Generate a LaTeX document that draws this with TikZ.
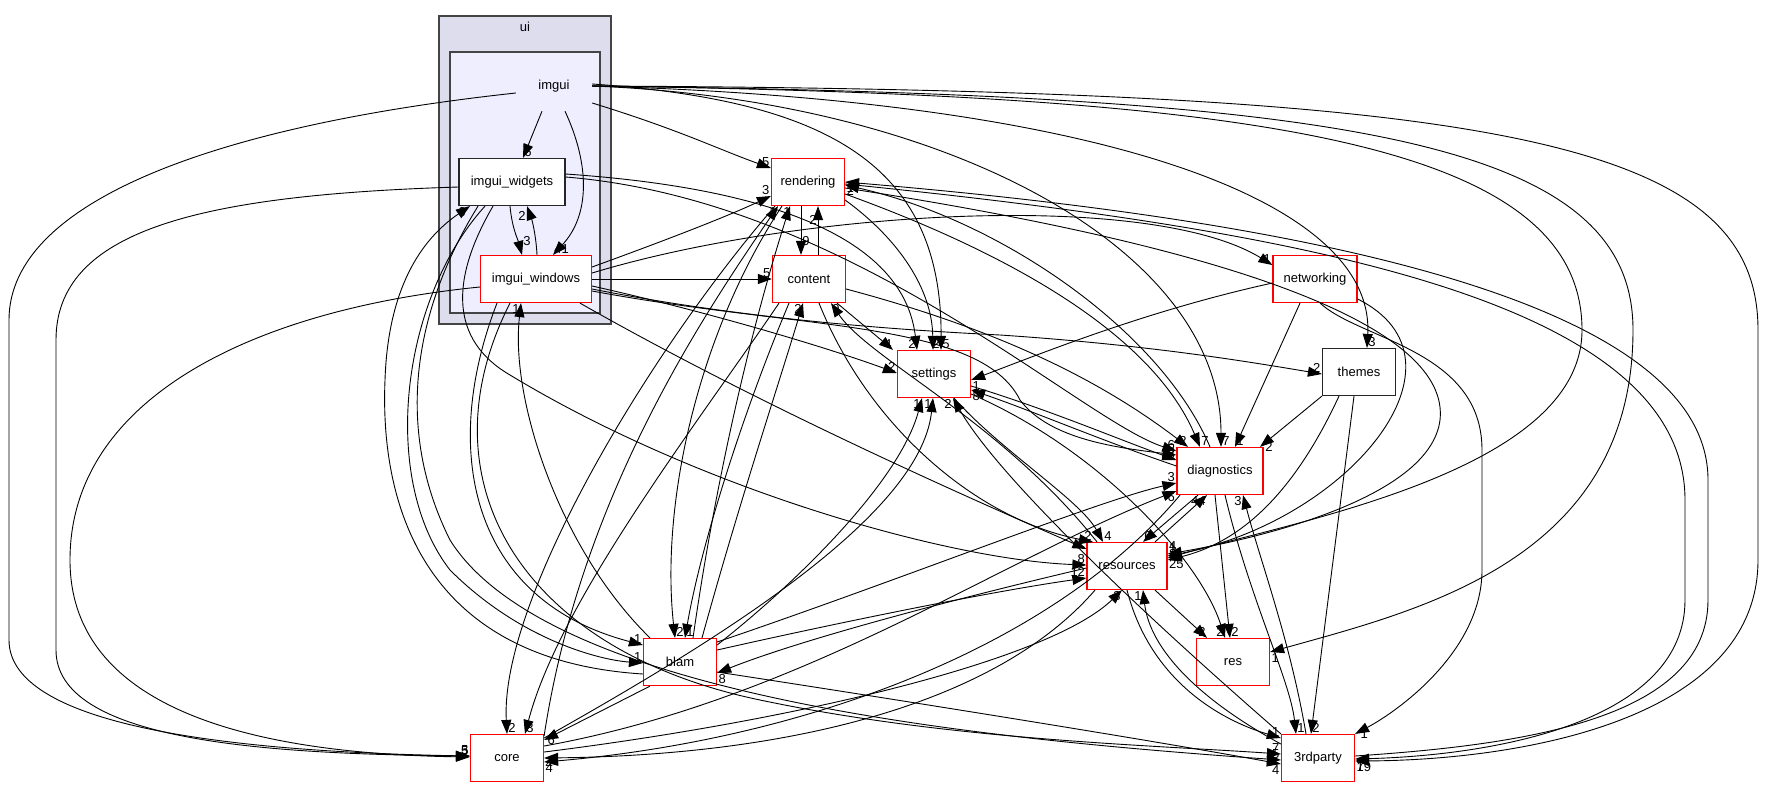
\documentclass[tikz,border=0pt]{standalone}
\usepackage{fontspec}
\setmainfont{Liberation Sans}
\usetikzlibrary{arrows.meta}

\definecolor{uifill}{RGB}{221,221,238}
\definecolor{imguifill}{RGB}{238,238,255}
\definecolor{frame}{RGB}{68,68,68}

\tikzset{
	dir/.style={draw=red, fill=white, line width=1.2pt, minimum width=73pt, minimum height=47pt, inner sep=0pt},
	dirblack/.style={dir, draw=black!85},
	dep/.style={-{Triangle[length=14pt,width=10pt]}, line width=0.9pt},
	num/.style={inner sep=1pt}
}

\begin{document}
\begin{tikzpicture}[x=1pt, y=-1pt, font=\fontsize{13}{15}\selectfont]
		\useasboundingbox (0,0) rectangle (1765,788);
		% clusters
		\draw[fill=uifill, draw=frame, line width=1.4pt] (439,16) rectangle (611,324);
		\node (uilabel) at (525,27) {ui};
		\draw[fill=imguifill, draw=frame, line width=1.4pt] (450,52) rectangle (600,313);
		% directories
		\node[minimum width=76pt, minimum height=50pt, inner sep=0pt] (imgui) at (554,86) {imgui};
		\node[dirblack, minimum width=106pt] (iwid) at (512,182) {imgui\_widgets};
		\node[dir, minimum width=111pt] (iwin) at (536,279) {imgui\_windows};
		\node[dir] (rendering) at (808,182) {rendering};
		\node[dir] (content) at (809,279) {content};
		\node[dir, minimum width=84pt] (networking) at (1315,279) {networking};
		\node[dir] (settings) at (934,374) {settings};
		\node[dirblack] (themes) at (1359,372) {themes};
		\node[dir, minimum width=86pt] (diagnostics) at (1220,471) {diagnostics};
		\node[dir, minimum width=80pt] (resources) at (1127,566) {resources};
		\node[dir] (res) at (1233,662) {res};
		\node[dir] (blam) at (680,662) {blam};
		\node[dir] (core) at (507,758) {core};
		\node[dir] (thirdparty) at (1318,758) {3rdparty};

		% inside imgui
		\draw[dep] ([xshift=-12pt]imgui.south) -- ([xshift=11pt]iwid.north) node[num, anchor=south west] {6};
		\draw[dep] ([xshift=11pt]imgui.south) .. controls (590,165) and (590,215) .. ([xshift=17pt]iwin.north) node[num, anchor=south west] {41};
		\draw[dep] ([xshift=-2pt]iwid.south) .. controls (512,228) and (518,240) .. ([xshift=-14pt]iwin.north) node[num, anchor=south west, yshift=8pt] {3};
		\draw[dep] ([xshift=1pt]iwin.north) .. controls (536,235) and (532,220) .. ([xshift=15pt]iwid.south) node[num, anchor=north east, yshift=-4pt] {2};

		% from imgui
		\draw[dep] ([yshift=-7pt]imgui.west) .. controls (220,125) and (9,200) .. (9,320) -- (9,640) .. controls (9,730) and (250,752) .. ([yshift=2pt]core.west) node[num, anchor=south east] {5};
		\draw[dep] ([yshift=-17pt]imgui.east) .. controls (680,130) and (720,150) .. ([yshift=14pt]rendering.west) node[num, anchor=south east] {5};
		\draw[dep] ([yshift=2pt]imgui.east) .. controls (820,100) and (942,160) .. ([xshift=7pt]settings.north) node[num, anchor=south west] {5};
		\draw[dep] (imgui.east) .. controls (950,100) and (1221,250) .. ([xshift=1pt]diagnostics.north) node[num, anchor=south west] {7};
		\draw[dep] (imgui.east) .. controls (1100,100) and (1375,200) .. ([xshift=8pt]themes.north) node[num, anchor=south west] {3};
		\draw[dep] (imgui.east) .. controls (1250,95) and (1582,140) .. (1582,330) .. controls (1582,470) and (1300,520) .. ([yshift=8pt]resources.east) node[num, anchor=north west] {25};
		\draw[dep] (imgui.east) .. controls (1350,95) and (1633,140) .. (1633,330) .. controls (1633,560) and (1420,610) .. ([yshift=10pt]res.east) node[num, anchor=north west] {1};
		\draw[dep] (imgui.east) .. controls (1500,90) and (1758,140) .. (1758,330) -- (1758,560) .. controls (1758,720) and (1520,760) .. ([yshift=-3pt]thirdparty.east) node[num, anchor=north west] {19};

		% from imgui_widgets
		\draw[dep] ([yshift=-5pt]iwid.west) .. controls (200,195) and (56,230) .. (56,340) -- (56,650) .. controls (56,740) and (260,754) .. ([yshift=2pt]core.west) node[num, anchor=south east] {3};
		\draw[dep] ([yshift=8pt]iwid.east) .. controls (800,190) and (905,250) .. ([xshift=-17pt]settings.north) node[num, anchor=south east] {2};
		\draw[dep] ([yshift=5pt]iwid.east) .. controls (850,200) and (1080,420) .. ([yshift=20pt]diagnostics.west) node[num, anchor=south east] {6};
		\draw[dep] ([xshift=-19pt]iwid.south) .. controls (450,280) and (450,340) .. (510,375) .. controls (700,490) and (950,560) .. ([yshift=1pt]resources.west) node[num, anchor=south east] {8};
		\draw[dep] ([xshift=-27pt]iwid.south) .. controls (400,300) and (380,480) .. (450,570) .. controls (520,640) and (600,660) .. ([yshift=-1pt]blam.west) node[num, anchor=south east] {1};
		\draw[dep] ([xshift=-34pt]iwid.south) .. controls (420,300) and (390,420) .. (450,540) .. controls (550,700) and (1000,740) .. ([yshift=-2pt]thirdparty.west) node[num, anchor=south east] {5};

		% from imgui_windows
		\draw[dep] ([yshift=-8pt]iwin.west) .. controls (250,310) and (70,400) .. (70,560) .. controls (70,720) and (280,754) .. ([yshift=1pt]core.west) node[num, anchor=south east] {5};
		\draw[dep] ([xshift=-39pt]iwin.south) .. controls (440,450) and (470,600) .. ([yshift=17pt]blam.west) node[num, anchor=south east] {1};
		\draw[dep] ([xshift=-26pt]iwin.south) .. controls (420,480) and (520,650) .. (760,700) .. controls (950,740) and (1150,745) .. ([yshift=4pt]thirdparty.west) node[num, anchor=south east] {7};
		\draw[dep] ([yshift=12pt]iwin.east) .. controls (680,235) and (730,215) .. ([yshift=-14pt]rendering.west) node[num, anchor=south east] {3};
		\draw[dep] ([yshift=6pt]iwin.east) .. controls (800,210) and (1150,190) .. ([yshift=14pt]networking.west) node[num, anchor=south east] {1};
		\draw[dep] (iwin.east) -- (content.west) node[num, anchor=south east] {5};
		\draw[dep] ([yshift=-7pt]iwin.east) .. controls (700,310) and (820,345) .. ([yshift=1pt]settings.west) node[num, anchor=south east] {2};
		\draw[dep] ([yshift=-10pt]iwin.east) .. controls (750,320) and (900,330) .. (1000,335) .. controls (1150,345) and (1250,362) .. ([yshift=-2pt]themes.west) node[num, anchor=south east] {2};
		\draw[dep] ([yshift=-12pt]iwin.east) .. controls (800,330) and (980,320) .. (1020,400) .. controls (1050,440) and (1120,448) .. ([yshift=16pt]diagnostics.west) node[num, anchor=south east] {5};
		\draw[dep] ([xshift=44pt]iwin.south) .. controls (750,400) and (950,490) .. ([yshift=17pt]resources.west) node[num, anchor=south east] {2};

		% from rendering and content
		\draw[dep] ([xshift=-7pt]rendering.south) -- ([xshift=-8pt]content.north) node[num, anchor=south west, yshift=8pt] {9};
		\draw[dep] ([xshift=9pt]content.north) -- ([xshift=10pt]rendering.south) node[num, anchor=north east, yshift=-8pt] {2};
		\draw[dep] ([yshift=-18pt]rendering.east) .. controls (900,240) and (932,290) .. ([xshift=-1pt]settings.north) node[num, anchor=south, xshift=3pt] {2};
		\draw[dep] ([yshift=-12pt]rendering.east) .. controls (1000,250) and (1150,330) .. ([xshift=-20pt]diagnostics.north) node[num, anchor=south west] {7};
		\draw[dep] ([xshift=-10pt]diagnostics.north) .. controls (1160,330) and (1000,220) .. ([yshift=-3pt]rendering.east) node[num, anchor=north west] {2};
		\draw[dep] ([yshift=-2pt]rendering.east) .. controls (1300,230) and (1685,300) .. (1685,500) -- (1685,600) .. controls (1685,720) and (1500,755) .. ([yshift=-1pt]thirdparty.east) node[num, anchor=north west, yshift=-2pt] {7};
		\draw[dep] ([yshift=2pt]thirdparty.east) .. controls (1520,745) and (1708,720) .. (1708,600) -- (1708,480) .. controls (1708,300) and (1300,220) .. (rendering.east) node[num, anchor=north west] {1};
		\draw[dep] ([yshift=-6pt]rendering.east) .. controls (1250,250) and (1450,330) .. (1440,420) .. controls (1430,500) and (1250,540) .. ([yshift=12pt]resources.east) node[num, anchor=south west] {1};
		\draw[dep] ([xshift=-33pt]rendering.south) .. controls (650,350) and (500,600) .. (core.north) node[num, anchor=south west] {2};
		\draw[dep] ([yshift=22pt]core.east) .. controls (580,500) and (700,320) .. ([xshift=-30pt]rendering.south) node[num, anchor=north east] {1};
		\draw[dep] ([xshift=13pt]blam.north) .. controls (720,450) and (760,300) .. ([xshift=-18pt]rendering.south) node[num, anchor=north east, xshift=2pt] {1};
		\draw[dep] ([xshift=-26pt]rendering.south) .. controls (700,330) and (660,500) .. ([xshift=-5pt]blam.north) node[num, anchor=south west] {2};
		\draw[dep] ([xshift=-20pt]content.south) .. controls (740,420) and (700,550) .. ([xshift=5pt]blam.north) node[num, anchor=south west] {1};
		\draw[dep] ([xshift=22pt]blam.north) .. controls (740,500) and (780,380) .. ([xshift=-6pt]content.south) node[num, anchor=north east] {2};
		\draw[dep] ([xshift=-30pt]content.south) .. controls (700,420) and (560,600) .. ([xshift=18pt]core.north) node[num, anchor=south west] {3};
		\draw[dep] ([xshift=28pt]content.south) -- ([xshift=-41pt]settings.north) node[num, anchor=south east] {4};
		\draw[dep] ([yshift=-10pt]content.east) .. controls (1000,330) and (1100,380) .. ([xshift=-32pt]diagnostics.north) node[num, anchor=south east] {2};
		\draw[dep] ([xshift=-30pt]resources.north) .. controls (1000,420) and (870,360) .. ([xshift=22pt]content.south) node[num, anchor=north west] {9};
		\draw[dep] ([xshift=10pt]content.south) .. controls (870,430) and (980,520) .. ([xshift=-34pt]resources.north) node[num, anchor=south east] {2};

		% settings
		\draw[dep] ([yshift=-12pt]settings.east) .. controls (1050,410) and (1120,440) .. ([yshift=11pt]diagnostics.west) node[num, anchor=south east] {8};
		\draw[dep] ([yshift=5pt]diagnostics.west) .. controls (1100,440) and (1030,410) .. ([yshift=-16pt]settings.east) node[num, anchor=north west] {8};
		\draw[dep] ([xshift=20pt]settings.south) .. controls (1000,450) and (1080,500) .. ([xshift=-24pt]resources.north) node[num, anchor=south west] {4};
		\draw[dep] (thirdparty.north west) .. controls (1150,620) and (1000,480) .. ([xshift=19pt]settings.south) node[num, anchor=north east] {2};
		\draw[dep] ([yshift=17pt]blam.east) .. controls (800,580) and (900,480) .. ([xshift=-12pt]settings.south) node[num, anchor=north east] {1};
		\draw[dep] ([yshift=20pt]core.east) .. controls (700,650) and (920,520) .. ([xshift=-1pt]settings.south) node[num, anchor=north east] {1};
		\draw[dep] ([yshift=-4pt]networking.west) .. controls (1150,310) and (1050,350) .. ([yshift=-6pt]settings.east) node[num, anchor=north west] {1};
		\draw[dep] ([yshift=-20pt]settings.east) .. controls (1100,450) and (1200,560) .. ([xshift=-8pt]res.north) node[num, anchor=south east] {2};

		% diagnostics and resources
		\draw[dep] ([xshift=-5pt]diagnostics.south) -- ([xshift=-3pt]res.north) node[num, anchor=south west] {2};
		\draw[dep] ([xshift=28pt]resources.south) -- ([xshift=-26pt]res.north) node[num, anchor=south east] {2};
		\draw[dep] ([xshift=-22pt]diagnostics.south) -- ([xshift=16pt]resources.north) node[num, anchor=south west] {6};
		\draw[dep] ([xshift=28pt]resources.north) -- ([xshift=-13pt]diagnostics.south) node[num, anchor=north east] {44};
		\draw[dep] ([xshift=5pt]diagnostics.south) .. controls (1250,600) and (1290,680) .. ([xshift=-22pt]thirdparty.north) node[num, anchor=south west] {1};
		\draw[dep] ([xshift=-12pt]thirdparty.north) .. controls (1290,640) and (1260,560) .. ([xshift=23pt]diagnostics.south) node[num, anchor=north east] {3};
		\draw[dep] ([yshift=20pt]blam.east) .. controls (900,580) and (1100,500) .. ([yshift=-12pt]diagnostics.west) node[num, anchor=south east] {3};
		\draw[dep] ([yshift=12pt]core.east) .. controls (800,700) and (1000,560) .. ([yshift=-20pt]diagnostics.west) node[num, anchor=north east] {6};
		\draw[dep] ([xshift=-40pt]diagnostics.south) .. controls (1050,650) and (800,740) .. ([yshift=-4pt]core.east) node[num, anchor=north west] {4};
		\draw[dep] ([yshift=-2pt]resources.west) .. controls (950,600) and (800,640) .. ([yshift=-11pt]blam.east) node[num, anchor=north west] {8};
		\draw[dep] ([yshift=12pt]blam.east) .. controls (850,620) and (1000,590) .. ([yshift=-12pt]resources.west) node[num, anchor=south east] {12};
		\draw[dep] ([xshift=-32pt]resources.south) .. controls (1000,700) and (800,755) .. (core.east) node[num, anchor=north west] {4};
		\draw[dep] ([yshift=6pt]core.east) .. controls (800,720) and (1050,660) .. ([xshift=-5pt]resources.south) node[num, anchor=north east] {3};
		\draw[dep] (resources.south) .. controls (1150,680) and (1220,720) .. ([yshift=20pt]thirdparty.west) node[num, anchor=south east] {1};
		\draw[dep] ([yshift=14pt]thirdparty.west) .. controls (1200,700) and (1150,650) .. ([xshift=16pt]resources.south) node[num, anchor=north east] {1};

		% blam
		\draw[dep] ([xshift=-30pt]blam.south) -- ([yshift=18pt]core.east) node[num, anchor=west, xshift=2pt] {6};
		\draw[dep] ([yshift=-12pt]blam.west) .. controls (420,660) and (380,500) .. (385,380) .. controls (388,290) and (420,240) .. ([xshift=-42pt]iwid.south) node[num, anchor=north east, xshift=-3pt] {6};
		\draw[dep] ([xshift=-30pt]blam.north) .. controls (560,550) and (510,400) .. ([xshift=-15pt]iwin.south) node[num, anchor=north east] {1};
		\draw[dep] ([yshift=-10pt]blam.east) .. controls (900,700) and (1150,740) .. ([yshift=-6pt]thirdparty.west) node[num, anchor=north east] {4};

		% themes and networking
		\draw[dep] (themes.south west) -- ([xshift=40pt]diagnostics.north) node[num, anchor=west, xshift=4pt] {2};
		\draw[dep] ([xshift=-20pt]themes.south) .. controls (1300,480) and (1250,540) .. ([yshift=6pt]resources.east) node[num, anchor=south west] {3};
		\draw[dep] ([xshift=-5pt]themes.south) -- ([xshift=-7pt]thirdparty.north) node[num, anchor=south west] {2};
		\draw[dep] ([xshift=-15pt]networking.south) -- ([xshift=15pt]diagnostics.north) node[num, anchor=south west] {1};
		\draw[dep] ([yshift=-20pt]networking.east) .. controls (1480,360) and (1350,520) .. ([yshift=10pt]resources.east) node[num, anchor=south west, yshift=4pt] {4};
		\draw[dep] ([xshift=5pt]networking.south) .. controls (1360,340) and (1482,350) .. (1482,450) -- (1482,570) .. controls (1482,650) and (1400,710) .. (thirdparty.north east) node[num, anchor=west, xshift=4pt] {1};
	\end{tikzpicture}
\end{document}
